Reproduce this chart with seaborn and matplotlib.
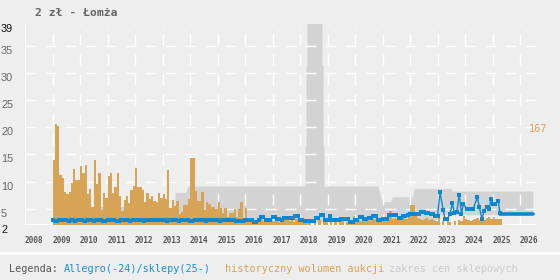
import matplotlib
matplotlib.use("Agg")
import numpy as np
import pandas as pd
import seaborn as sns
import matplotlib.pyplot as plt
import matplotlib.transforms as mtrans

sns.set_style("white")
plt.rcParams["font.family"] = ["DejaVu Sans Mono", "DejaVu Sans"]
plt.rcParams["lines.scale_dashes"] = False

# ---------------- data ----------------
title = "2 zł - Łomża"
years = list(range(2008, 2027))
y_ticks = [2, 5, 10, 15, 20, 25, 30, 35, 39]

# monthly auction volume, starting 2009-01
vol_start = 2009
volume = [
    107, 167, 163, 83, 78, 55, 51, 55, 69, 93, 74, 74,      # 2009
    97, 86, 99, 51, 59, 30, 107, 68, 86, 25, 53, 45,        # 2010
    81, 86, 53, 63, 86, 48, 23, 41, 48, 36, 58, 64,         # 2011
    94, 63, 63, 58, 38, 53, 43, 48, 40, 38, 53, 45,         # 2012
    51, 43, 91, 28, 41, 31, 40, 18, 21, 33, 33, 43,         # 2013
    111, 111, 56, 40, 40, 55, 25, 38, 35, 30, 30, 26,       # 2014
    38, 28, 20, 28, 13, 20, 20, 26, 13, 26, 38, 10,         # 2015
    28, 8, 6, 10, 8, 5, 8, 10, 6, 8, 12, 8,                 # 2016
    6, 10, 8, 5, 12, 8, 10, 6, 8, 5, 10, 8,                 # 2017
    6, 8, 10, 8, 5, 0, 6, 0, 8, 0, 5, 6,                    # 2018
    0, 8, 0, 5, 0, 6, 8, 0, 5, 8, 6, 15,                    # 2019
    10, 8, 6, 10, 8, 12, 6, 8, 10, 8, 6, 8,                 # 2020
    10, 8, 6, 23, 10, 12, 10, 8, 15, 12, 10, 14,            # 2021
    33, 33, 20, 12, 10, 8, 10, 12, 8, 10, 8, 6,             # 2022
    14, 0, 6, 0, 8, 5, 0, 6, 0, 8, 6, 15,                   # 2023
    10, 8, 6, 8, 10, 12, 8, 10, 8, 12, 13, 10,              # 2024
    13, 10, 10, 10,                                         # 2025
]
volume_max_label = "167"

# Allegro price, monthly from 2009-01 to 2023-01
allegro_monthly = [
    3.0, 2.65, 2.65, 2.85, 2.85, 2.85, 2.85, 2.7, 2.85, 2.85, 2.7, 2.85,
    2.85, 2.85, 2.7, 2.85, 2.85, 2.85, 2.7, 2.85, 2.85, 2.85, 2.65, 2.65,
    2.85, 2.85, 2.85, 2.85, 2.7, 2.65, 2.85, 2.85, 2.85, 2.85, 2.7, 2.85,
    3.0, 2.85, 2.85, 2.85, 2.7, 2.85, 2.85, 2.85, 2.85, 2.85, 2.85, 2.85,
    2.85, 2.85, 2.7, 3.0, 2.85, 2.85, 2.85, 2.7, 2.85, 2.85, 3.0, 2.85,
    2.65, 2.65, 2.85, 2.85, 2.85, 2.85, 2.85, 2.7, 2.85, 2.85, 2.85, 2.85,
    2.85, 2.7, 2.85, 2.85, 2.85, 3.0, 2.85, 2.85, 2.8, 2.8, 2.8, 2.8,
    2.85, 2.85, 2.85, 2.85, 2.5, 2.5, 2.85, 3.4, 3.4, 3.0, 3.0, 3.0,
    3.4, 3.4, 3.1, 3.1, 2.9, 3.2, 3.2, 3.2, 3.2, 3.2, 3.6, 3.6,
    3.0, 3.0, 2.7, 2.7, 2.7, 2.7, 2.7, 3.3, 3.3, 3.8, 3.8, 3.0,
    3.0, 3.6, 2.9, 2.9, 2.9, 2.9, 3.05, 3.05, 3.05, 3.05, 2.6, 2.6,
    2.9, 2.9, 3.4, 3.4, 3.1, 3.1, 3.3, 3.3, 3.7, 3.7, 2.9, 2.9,
    3.1, 3.1, 3.1, 3.9, 3.9, 3.8, 3.8, 3.3, 3.3, 3.6, 3.6, 3.9,
    4.1, 4.1, 4.1, 4.1, 4.1, 4.4, 4.4, 4.2, 4.2, 4.0, 4.0, 3.7,
    3.6,
]
allegro_late_x = [2023.09, 2023.21, 2023.27, 2023.36, 2023.45, 2023.54, 2023.61,
                  2023.70, 2023.79, 2023.87, 2023.94, 2024.06, 2024.18, 2024.30,
                  2024.45, 2024.52, 2024.62, 2024.69, 2024.79, 2024.88, 2024.95,
                  2025.03, 2025.10, 2025.21, 2025.27]
allegro_late_y = [8.0, 4.7, 3.1, 3.1, 4.0, 6.0, 4.3, 4.4, 7.5, 4.1, 5.9, 5.0,
                  4.9, 5.0, 7.1, 5.3, 3.1, 4.6, 5.4, 4.9, 6.8, 5.9, 5.9, 6.4, 4.15]

# shop prices (2025-)
shop_x = [2025.27, 2026.47]
shop_y = [4.0, 4.0]

# shop price range (grey band)
range1_x = [2010.70, 2011.60]
range1_lo = [2.6, 2.6]
range1_hi = [5.3, 5.3]

range2_x = [2013.45, 2013.85, 2013.92, 2018.18, 2018.18, 2018.22, 2018.22, 2018.25,
            2018.25, 2018.80, 2018.80, 2018.84, 2018.84, 2018.87, 2018.87, 2020.84,
            2020.90, 2020.97, 2021.00, 2021.30, 2021.36, 2022.08, 2022.15, 2023.00,
            2023.09, 2023.50, 2023.52, 2025.27, 2025.30, 2026.47]
range2_lo = [2.6, 2.6, 2.6, 2.6, 2.6, 2.6, 2.6, 2.6,
             2.6, 2.6, 2.6, 2.6, 2.6, 2.6, 2.6, 2.6,
             2.6, 2.6, 2.6, 2.6, 2.6, 2.6, 2.8, 3.0,
             3.9, 3.9, 3.9, 3.9, 4.0, 4.0]
range2_hi = [8.0, 8.0, 9.17, 9.17, 16.5, 16.5, 31.4, 31.4,
             39.5, 39.5, 31.4, 31.4, 16.5, 16.5, 9.17, 9.17,
             7.8, 6.6, 6.3, 6.3, 7.2, 7.2, 8.75, 8.75,
             8.75, 8.75, 8.25, 8.25, 8.25, 8.25]

legend_items = [("Legenda:", "#555555", 9), ("Allegro(-24)/sklepy(25-)", "#1a8fd6", 64),
                ("historyczny wolumen aukcji", "#d8a352", 225),
                ("zakres cen sklepowych", "#cccccc", 389)]

# ---------------- styling ----------------
BG = "#eeeeee"
ORANGE = "#d7a456"
BLUE = "#0b88d0"
GREY = "#d3d3d3"

W, H = 560, 280
fig = plt.figure(figsize=(W / 100, H / 100), dpi=100, facecolor=BG)
L, R, T, B = 25, 536, 24, 225
rect = [L / W, 1 - B / H, (R - L) / W, (B - T) / H]
ax = fig.add_axes(rect)
ax.set_facecolor(BG)
xmax = 2008 + (R - L) / 27.5
ax.set_xlim(2008, xmax)
ax.set_ylim(2, 39)

# grey band
ax.fill_between(range1_x, range1_lo, range1_hi, color=GREY, lw=0, zorder=1)
ax.fill_between(range2_x, range2_lo, range2_hi, color=GREY, lw=0, zorder=1)

# grid: 11px dash, 9px gap
dash = (0, (11 * 0.72, 9 * 0.72))
for yv in y_ticks[1:-1]:
    ax.axhline(yv, color="white", lw=1.0, ls=dash, zorder=2)
for xv in years[1:]:
    ax.axvline(xv, color="white", lw=1.0, ls=dash, zorder=2)
ax.axvline(years[0], color="white", lw=1.2, zorder=2)
ax.axhline(2, color="white", lw=1.6, zorder=2)

for s in ax.spines.values():
    s.set_visible(False)

# y labels as text at the left figure edge
ax.set_yticks([])
ylab_tr = mtrans.blended_transform_factory(fig.transFigure, ax.transData)
for v in y_ticks:
    ax.text(1 / W, v, str(v), transform=ylab_tr, ha="left", va="top",
            family="Liberation Sans", fontsize=7.8,
            color="#111111" if v in (2, 39) else "#666666")

ax.set_xticks(years, [str(y) for y in years])
for lbl in ax.get_xticklabels():
    lbl.set_ha("left")
    lbl.set_fontsize(5.6)
    lbl.set_fontweight("bold")
    lbl.set_color("#555555")
ax.tick_params(axis="x", length=0, pad=8)

# volume bars
ax2 = ax.twinx()
month_x = vol_start + np.arange(len(volume)) / 12 + 1 / 24
dfv = pd.DataFrame({"x": month_x, "v": volume})
sns.histplot(data=dfv, x="x", weights="v", binwidth=1 / 12,
             binrange=(vol_start, vol_start + len(volume) / 12), ax=ax2,
             color=ORANGE, alpha=1, linewidth=0, element="bars", fill=True)
ax2.set_ylim(0, 332)
ax2.set_xlim(2008, xmax)
ax2.axis("off")
ax2.text(2026.32, max(volume), volume_max_label, color=ORANGE, fontsize=7.4,
         va="top", ha="left")

# price line
ax3 = ax.twinx()
ax_x = list(vol_start + np.arange(len(allegro_monthly)) / 12) + allegro_late_x
ax_y = allegro_monthly + allegro_late_y
dfa = pd.DataFrame({"x": ax_x, "y": ax_y})
sns.lineplot(data=dfa, x="x", y="y", ax=ax3, color=BLUE, lw=1.0, marker="s",
             markersize=3.3, markeredgewidth=0, estimator=None, sort=False)
dfs = pd.DataFrame({"x": shop_x, "y": shop_y})
sns.lineplot(data=dfs, x="x", y="y", ax=ax3, color=BLUE, lw=2.6,
             estimator=None, sort=False)
ax3.set_ylim(2, 39)
ax3.set_xlim(2008, xmax)
ax3.axis("off")

# title
fig.text(35 / W, 1 - 12.5 / H, title, fontsize=8.2, fontweight="bold",
         color="#666666", va="center", ha="left")

# legend strip
fig.add_artist(plt.Line2D([0, 1], [1 - 253 / H] * 2, color="white", lw=2.2,
                          transform=fig.transFigure))
for txt, col, xp in legend_items:
    fig.text(xp / W, 1 - 269.5 / H, txt, color=col, fontsize=7.3,
             va="center", ha="left")

fig.savefig("out.png", dpi=100, facecolor=BG)
